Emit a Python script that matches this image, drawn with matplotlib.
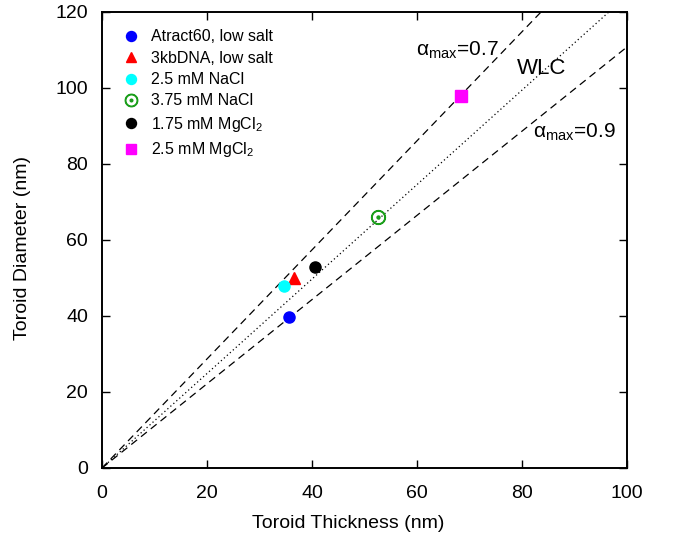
import numpy as np
import matplotlib
matplotlib.use("Agg")
import matplotlib.pyplot as plt

plt.rcParams['font.family'] = ['Liberation Sans', 'DejaVu Sans']
plt.rcParams['mathtext.fontset'] = 'custom'
plt.rcParams['mathtext.rm'] = 'Liberation Sans'
plt.rcParams['mathtext.it'] = 'Liberation Sans:italic'

# measured toroid sizes (thickness, diameter) in nm
labels = ["Atract60, low salt", "3kbDNA, low salt", "2.5 mM NaCl",
          "3.75 mM NaCl", r"1.75 mM MgCl$_2$", r"2.5 mM MgCl$_2$"]
thickness = [35.6, 36.6, 34.7, 52.6, 40.6, 68.4]
diameter = [39.7, 50.0, 47.9, 66.0, 52.9, 97.9]

# slopes of the model lines D = s * T
slope_a07 = 1.435
slope_wlc = 1.243
slope_a09 = 1.108

fig = plt.figure(figsize=(6.75, 5.42), dpi=100)
ax = fig.add_axes([102/675, (542-468)/542, 525/675, 456/542])

t = np.array([0, 100])
ax.plot(t, slope_a07*t, color='black', lw=0.9, ls=(0, (6, 4)))
ax.plot(t, slope_wlc*t, color='black', lw=0.9, ls=(0, (1, 2.2)))
ax.plot(t, slope_a09*t, color='black', lw=0.9, ls=(0, (6, 4)))

ax.plot(thickness[0], diameter[0], 'o', color='blue', ms=8, label=labels[0], ls='none')
ax.plot(thickness[1], diameter[1], '^', color='red', ms=8, label=labels[1], ls='none')
ax.plot(thickness[2], diameter[2], 'o', color='cyan', ms=8, label=labels[2], ls='none')
ax.plot(thickness[3], diameter[3], marker='$\\odot$', color='#1a9e1a', ms=10, label=labels[3], ls='none')
ax.plot(thickness[4], diameter[4], 'o', color='black', ms=8, label=labels[4], ls='none')
ax.plot(thickness[5], diameter[5], 's', color='magenta', ms=8, label=labels[5], ls='none')

ax.text(59.8, 110, 'α$_{\\mathrm{max}}$=0.7', fontsize=15, ha='left', va='center')
ax.text(79.0, 105, 'WLC', fontsize=16, ha='left', va='center')
ax.text(82.1, 88.4, 'α$_{\\mathrm{max}}$=0.9', fontsize=15, ha='left', va='center')

ax.set_xlim(0, 100)
ax.set_ylim(0, 120)
ax.set_xticks(np.arange(0, 101, 20))
ax.set_yticks(np.arange(0, 121, 20))
ax.tick_params(direction='in', top=True, right=True, length=6, width=1, labelsize=14)
ax.tick_params(axis='x', pad=12)
ax.tick_params(axis='y', pad=10)
for s in ax.spines.values():
    s.set_linewidth(1.4)

ax.set_xlabel('Toroid Thickness (nm)', fontsize=14, va='center')
ax.set_ylabel('Toroid Diameter (nm)', fontsize=14, va='center')
ax.xaxis.set_label_coords(0.469, -0.121)
ax.yaxis.set_label_coords(-0.152, 0.482)

ax.legend(loc='upper left', frameon=False, fontsize=11.5, handletextpad=0.5,
          labelspacing=0.4, borderaxespad=0.0, handlelength=1.5,
          markerscale=0.9, bbox_to_anchor=(0.02, 0.976))

fig.savefig('out.png', dpi=100)
